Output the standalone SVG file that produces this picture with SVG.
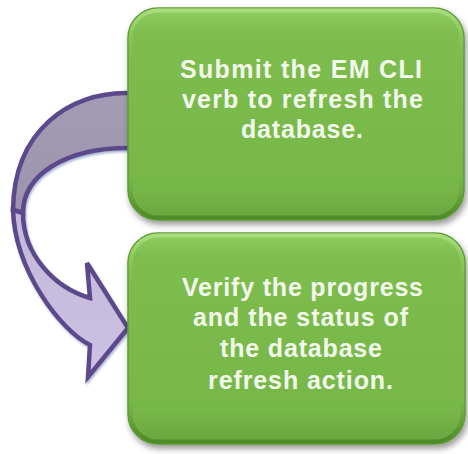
<svg xmlns="http://www.w3.org/2000/svg" width="468" height="454" viewBox="0 0 468 454">
<defs>
<linearGradient id="gBox" x1="0" y1="0" x2="0" y2="1">
<stop offset="0" stop-color="#8FCD60"/>
<stop offset="0.12" stop-color="#7DBD4E"/>
<stop offset="0.85" stop-color="#76B748"/>
<stop offset="1" stop-color="#67A53C"/>
</linearGradient>
<linearGradient id="gRim" x1="0" y1="0" x2="0" y2="1">
<stop offset="0" stop-color="#A8DC7C"/>
<stop offset="0.25" stop-color="#86C557" stop-opacity="0"/>
<stop offset="0.8" stop-color="#5E9A33" stop-opacity="0"/>
<stop offset="1" stop-color="#4E8A28"/>
</linearGradient>
<linearGradient id="gBack" x1="0" y1="0" x2="0" y2="1">
<stop offset="0" stop-color="#A49CB4"/>
<stop offset="1" stop-color="#9C93AD"/>
</linearGradient>
<linearGradient id="gFront" x1="0" y1="0" x2="0" y2="1">
<stop offset="0" stop-color="#C3B8DA"/>
<stop offset="1" stop-color="#CBC1E2"/>
</linearGradient>
<filter id="shBox" x="-10%" y="-10%" width="125%" height="130%">
<feDropShadow dx="2" dy="4" stdDeviation="3" flood-color="#000" flood-opacity="0.4"/>
</filter>
<filter id="shArr" x="-10%" y="-10%" width="130%" height="130%">
<feDropShadow dx="1" dy="2" stdDeviation="0.8" flood-color="#6F83B5" flood-opacity="0.6"/>
</filter>
</defs>
<style>
.box{fill:url(#gBox);stroke:#5E9C36;stroke-width:1.5}
.rim{fill:none;stroke:url(#gRim);stroke-width:4}
.arr{stroke:#5C4A8C;stroke-width:4.5;stroke-linejoin:miter}
.t{font-family:"Liberation Sans","DejaVu Sans",sans-serif;font-size:25px;font-weight:bold;fill:#F2F8EC;text-anchor:start}
</style>
<g id="connectors" filter="url(#shArr)">
<path class="arr" fill="url(#gBack)" d="M134,93 L128,93 C70,92 14,130 13,210 L23,213 C23,175 65,148 128,148 L134,148 Z"/>
<path class="arr" fill="url(#gFront)" d="M13,210 C15,270 60,330 90,345 L88,377 L128,328 L87,263 L90,298 C55,288 23,255 23,213 Z"/>
</g>
<g id="node1">
<rect class="box" x="128" y="8" width="336" height="212" rx="30" filter="url(#shBox)"/>
<rect class="rim" x="130.5" y="10.5" width="331" height="207" rx="28"/>
<text class="t" x="180" y="78" textLength="242">Submit the EM CLI</text>
<text class="t" x="182" y="108" textLength="241">verb to refresh the</text>
<text class="t" x="241" y="138" textLength="122">database.</text>
</g>
<g id="node2">
<rect class="box" x="128" y="233" width="337" height="211" rx="30" filter="url(#shBox)"/>
<rect class="rim" x="130.5" y="235.5" width="332" height="206" rx="28"/>
<text class="t" x="182" y="296" textLength="241">Verify the progress</text>
<text class="t" x="193" y="326" textLength="215">and the status of</text>
<text class="t" x="220" y="357" textLength="162">the database</text>
<text class="t" x="208" y="389" textLength="185">refresh action.</text>
</g>
</svg>
